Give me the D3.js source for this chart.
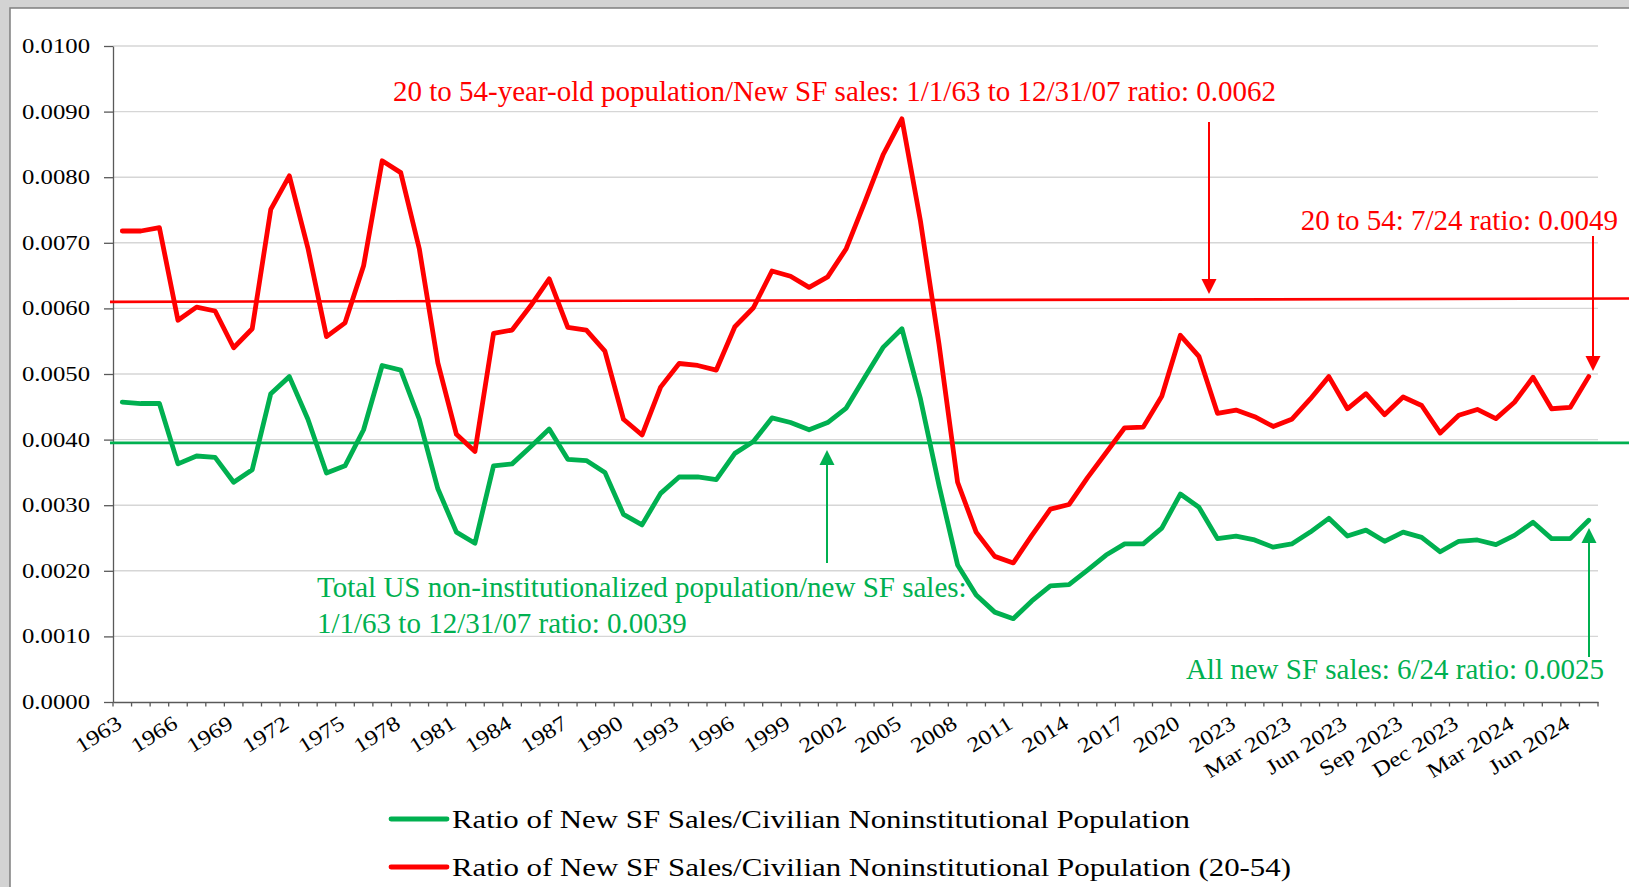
<!DOCTYPE html>
<html>
<head>
<meta charset="utf-8">
<script src="https://cdn.jsdelivr.net/npm/d3@7"></script>
<style>
  html, body { margin: 0; padding: 0; background: #d3d3d3; overflow: hidden; }
  svg { display: block; }
  text { font-family: "Liberation Serif", "Times New Roman", serif; }
</style>
</head>
<body>
<svg id="chart"></svg>
<script>
// categories: annual 1963-2023, then monthly Jan 2023 - Jul 2024
const years = d3.range(1963, 2024).map(String)
const months = ["Jan 2023", "Feb 2023", "Mar 2023", "Apr 2023", "May 2023", "Jun 2023", "Jul 2023",
  "Aug 2023", "Sep 2023", "Oct 2023", "Nov 2023", "Dec 2023", "Jan 2024", "Feb 2024", "Mar 2024",
  "Apr 2024", "May 2024", "Jun 2024", "Jul 2024"]
const categories = years.concat(months)

// Ratio of New SF Sales / Civilian Noninstitutional Population
const ratioAll = [
  0.00457, 0.00455, 0.00455, 0.00363, 0.00375, 0.00373, 0.00335, 0.00354, 0.00470, 0.00496,
  0.00431, 0.00349, 0.00360, 0.00415, 0.00513, 0.00506, 0.00431, 0.00325, 0.00259, 0.00242,
  0.00360, 0.00363, 0.00389, 0.00416, 0.00370, 0.00368, 0.00350, 0.00286, 0.00270, 0.00318,
  0.00343, 0.00343, 0.00339, 0.00379, 0.00397, 0.00433, 0.00426, 0.00415, 0.00426, 0.00448,
  0.00495, 0.00541, 0.00569, 0.00462, 0.00330, 0.00209, 0.00163, 0.00137, 0.00127, 0.00154,
  0.00177, 0.00179, 0.00201, 0.00224, 0.00241, 0.00241, 0.00265, 0.00317, 0.00297, 0.00249,
  0.00253,
  0.00247, 0.00236, 0.00241, 0.00259, 0.00280, 0.00253, 0.00262, 0.00245, 0.00259, 0.00251,
  0.00229, 0.00245, 0.00247, 0.00240, 0.00254, 0.00274, 0.00249, 0.00249, 0.00277
]

// Ratio of New SF Sales / Civilian Noninstitutional Population (20-54)
const ratio2054 = [
  0.00718, 0.00718, 0.00723, 0.00582, 0.00602, 0.00596, 0.00540, 0.00569, 0.00751, 0.00802,
  0.00692, 0.00557, 0.00578, 0.00665, 0.00825, 0.00807, 0.00691, 0.00517, 0.00408, 0.00382,
  0.00562, 0.00567, 0.00604, 0.00645, 0.00571, 0.00567, 0.00535, 0.00431, 0.00407, 0.00480,
  0.00516, 0.00513, 0.00506, 0.00572, 0.00601, 0.00657, 0.00649, 0.00632, 0.00648, 0.00691,
  0.00762, 0.00835, 0.00889, 0.00733, 0.00545, 0.00335, 0.00259, 0.00222, 0.00212, 0.00254,
  0.00294, 0.00301, 0.00342, 0.00380, 0.00418, 0.00419, 0.00466, 0.00559, 0.00527, 0.00440,
  0.00445,
  0.00435, 0.00420, 0.00431, 0.00462, 0.00496, 0.00447, 0.00470, 0.00438, 0.00465, 0.00452,
  0.00410, 0.00437, 0.00446, 0.00432, 0.00457, 0.00495, 0.00447, 0.00449, 0.00496
]

// 1/1/63 to 12/31/07 averages (as drawn: red one rises very slightly)
const avgAll = [0.00395, 0.00395]
const avg2054 = [0.00610, 0.00615]

const yTicks = [0, 0.001, 0.002, 0.003, 0.004, 0.005, 0.006, 0.007, 0.008, 0.009, 0.010]

const seriesNames = [
  "Ratio of New SF Sales/Civilian Noninstitutional Population",
  "Ratio of New SF Sales/Civilian Noninstitutional Population (20-54)"
]

const green = "#00b050", red = "#ff0000"

const W = 1629, H = 887
const svg = d3.select("#chart").attr("width", W).attr("height", H)

// chart frame
svg.append("rect")
  .attr("x", 10).attr("y", 8).attr("width", W).attr("height", H)
  .attr("fill", "#fff").attr("stroke", "#7f7f7f").attr("stroke-width", 1.5)

const x = d3.scaleBand().domain(categories).range([113, 1598])
const y = d3.scaleLinear().domain([0, 0.01]).range([702, 46])
const cx = c => x(c) + x.bandwidth() / 2

// gridlines
svg.append("g").selectAll("line")
  .data(yTicks.slice(1))
  .join("line")
  .attr("x1", 113).attr("x2", 1598)
  .attr("y1", d => y(d)).attr("y2", d => y(d))
  .attr("stroke", "#d6d6d6").attr("stroke-width", 1.4)

// y axis
const yAxis = svg.append("g")
  .attr("transform", "translate(113,0)")
  .call(d3.axisLeft(y).tickValues(yTicks).tickFormat(d3.format(".4f"))
    .tickSize(9).tickSizeOuter(0).tickPadding(14))
yAxis.select(".domain").attr("stroke", "#595959").attr("stroke-width", 1.3)
yAxis.selectAll(".tick line").attr("stroke", "#595959").attr("stroke-width", 1.3)
yAxis.selectAll(".tick text")
  .attr("font-size", 20).attr("fill", "#000")
  .attr("font-family", "Liberation Serif")
  .attr("textLength", 68).attr("lengthAdjust", "spacingAndGlyphs")

// x axis
const xAxis = svg.append("g")
  .attr("transform", "translate(0,702)")
  .call(d3.axisBottom(x).tickValues(categories.filter((d, i) => i % 3 === 0))
    .tickSize(0).tickSizeOuter(0))
xAxis.select(".domain").attr("stroke", "#595959").attr("stroke-width", 1.3)
xAxis.selectAll(".tick text")
  .attr("font-size", 21).attr("fill", "#000")
  .attr("font-family", "Liberation Serif")
  .attr("text-anchor", "end")
  .attr("y", 0).attr("dy", null)
  .attr("transform", "translate(1,25) rotate(-32)")
  .each(function() {
    const len = this.getComputedTextLength()
    d3.select(this).attr("textLength", len * 1.19).attr("lengthAdjust", "spacingAndGlyphs")
  })

// boundary ticks between categories
xAxis.append("g").selectAll("line")
  .data(categories.map(c => x(c)).concat([x.range()[1]]))
  .join("line")
  .attr("x1", d => d).attr("x2", d => d)
  .attr("y1", 0).attr("y2", 4.5)
  .attr("stroke", "#595959").attr("stroke-width", 1.3)

// average lines
const avgLine = (vals, color) => svg.append("line")
  .attr("x1", 110).attr("x2", W)
  .attr("y1", y(vals[0])).attr("y2", y(vals[1]))
  .attr("stroke", color).attr("stroke-width", 2.6)
avgLine(avg2054, red)
avgLine(avgAll, green)

// series
const line = d3.line()
  .x((d, i) => cx(categories[i]))
  .y(d => y(d))

svg.append("path").datum(ratioAll)
  .attr("d", line).attr("fill", "none")
  .attr("stroke", green).attr("stroke-width", 4.8)
  .attr("stroke-linejoin", "round").attr("stroke-linecap", "round")

svg.append("path").datum(ratio2054)
  .attr("d", line).attr("fill", "none")
  .attr("stroke", red).attr("stroke-width", 4.8)
  .attr("stroke-linejoin", "round").attr("stroke-linecap", "round")

// annotation arrows: x, tail y, tip y
const arrows = [
  {x: 1209, from: 122, to: 294, color: red},
  {x: 1593, from: 236, to: 371, color: red},
  {x: 827, from: 563, to: 450, color: green},
  {x: 1589, from: 657, to: 528, color: green}
]
arrows.forEach(a => {
  const dir = a.to > a.from ? 1 : -1
  const head = 15
  svg.append("line")
    .attr("x1", a.x).attr("x2", a.x)
    .attr("y1", a.from).attr("y2", a.to - dir * head)
    .attr("stroke", a.color).attr("stroke-width", 2)
  svg.append("path")
    .attr("d", `M${a.x},${a.to} L${a.x - 7.5},${a.to - dir * head} L${a.x + 7.5},${a.to - dir * head} Z`)
    .attr("fill", a.color)
})

// annotation texts
const notes = [
  {text: "20 to 54-year-old population/New SF sales: 1/1/63 to 12/31/07 ratio: 0.0062", x: 393, y: 101, anchor: "start", color: red},
  {text: "20 to 54: 7/24 ratio: 0.0049", x: 1618, y: 230, anchor: "end", color: red},
  {text: "Total US non-institutionalized population/new SF sales:", x: 317, y: 597, anchor: "start", color: green},
  {text: "1/1/63 to 12/31/07 ratio: 0.0039", x: 317, y: 633, anchor: "start", color: green},
  {text: "All new SF sales: 6/24 ratio: 0.0025", x: 1604, y: 679, anchor: "end", color: green}
]
svg.append("g").selectAll("text")
  .data(notes)
  .join("text")
  .attr("x", d => d.x).attr("y", d => d.y)
  .attr("text-anchor", d => d.anchor)
  .attr("fill", d => d.color)
  .attr("font-size", 29)
  .text(d => d.text)

// legend
const legend = svg.append("g").selectAll("g")
  .data([{name: seriesNames[0], color: green, y: 819, len: 738},
         {name: seriesNames[1], color: red, y: 867, len: 839}])
  .join("g")
legend.append("line")
  .attr("x1", 391).attr("x2", 447)
  .attr("y1", d => d.y).attr("y2", d => d.y)
  .attr("stroke", d => d.color).attr("stroke-width", 4.8)
  .attr("stroke-linecap", "round")
legend.append("text")
  .attr("x", 452).attr("y", d => d.y + 8.5)
  .attr("font-size", 26).attr("fill", "#000")
  .attr("textLength", d => d.len).attr("lengthAdjust", "spacingAndGlyphs")
  .text(d => d.name)
</script>
</body>
</html>
